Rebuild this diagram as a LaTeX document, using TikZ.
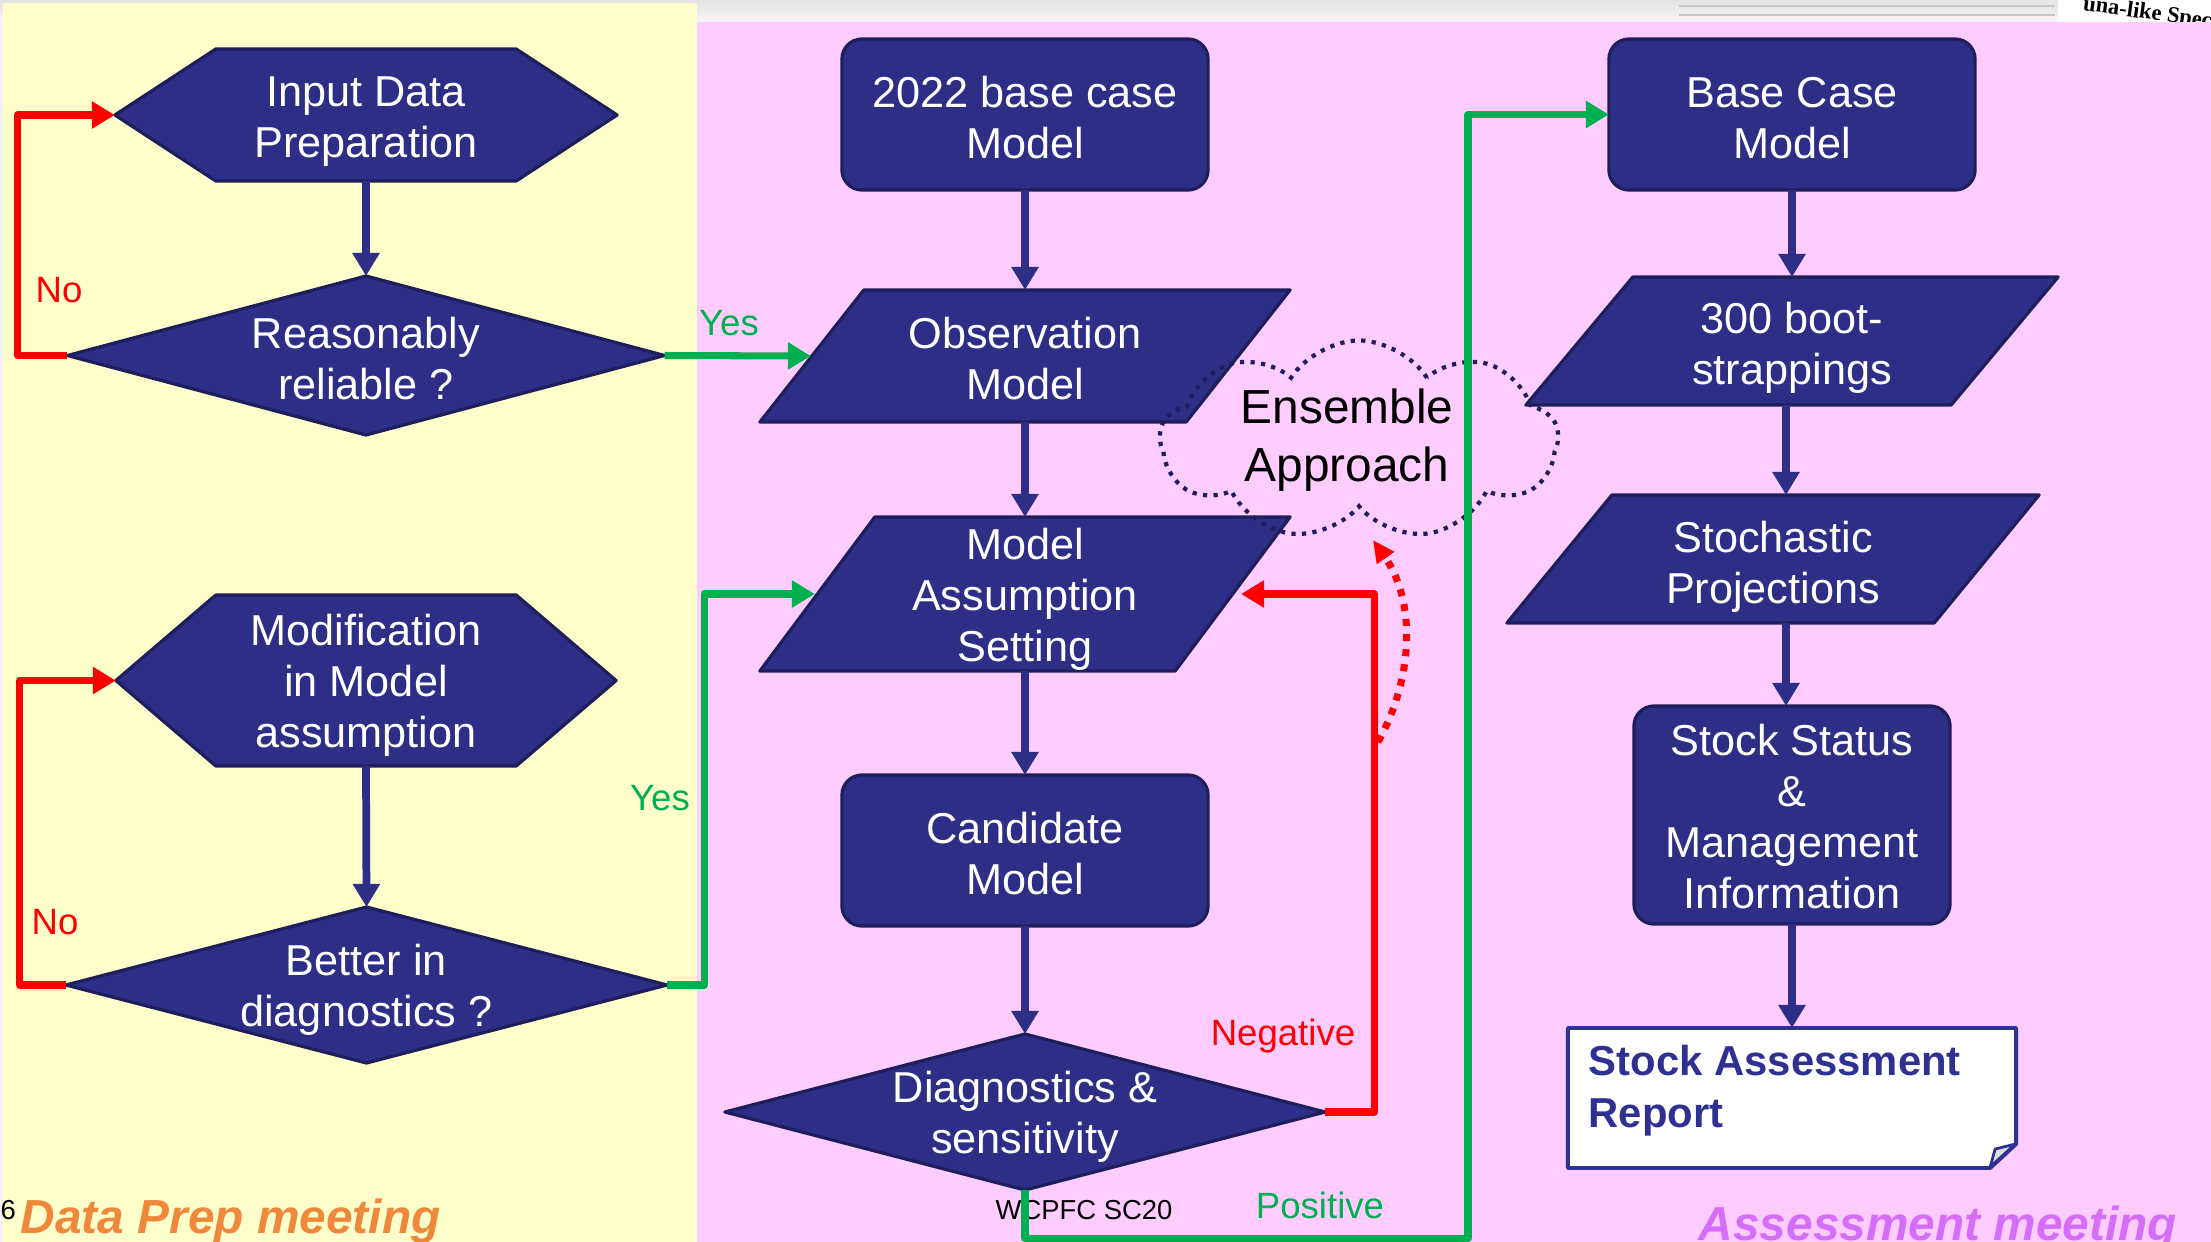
\documentclass[tikz,border=0pt]{standalone}
\usepackage{fontspec}
\setmainfont{Liberation Sans}
\newfontfamily\seriffont{Liberation Serif}
\usetikzlibrary{shapes.symbols,arrows.meta,calc}
\definecolor{navy}{RGB}{45,46,134}
\definecolor{navyD}{RGB}{30,30,92}
\definecolor{navyR}{RGB}{46,49,146}
\definecolor{ylw}{RGB}{255,255,204}
\definecolor{pnk}{RGB}{255,204,255}
\definecolor{grn}{RGB}{0,176,80}
\definecolor{rd}{RGB}{255,0,0}
\definecolor{org}{RGB}{240,136,60}
\definecolor{prp}{RGB}{212,110,250}
\pgfdeclarelayer{bgzero}
\pgfdeclarelayer{bgone}
\pgfsetlayers{bgzero,bgone,main}
\tikzset{
  box/.style={inner sep=0pt, outer sep=0pt},
  txt/.style={inner sep=0pt, align=center, text=white,
    font=\fontsize{12.3}{14.5}\selectfont},
  rbox/.style={box, fill=navy, draw=navyD, line width=0.9pt, rounded corners=0.2cm},
  shp/.style={fill=navy, draw=navyD, line width=0.9pt, line join=round},
  arr/.style={draw=navy, line width=2.2pt, -{Triangle[length=0.23cm,width=0.26cm]}},
  redarr/.style={draw=rd, line width=2pt, line join=round, -{Triangle[length=0.23cm,width=0.26cm]}},
  grnarr/.style={draw=grn, line width=2pt, line join=round, -{Triangle[length=0.23cm,width=0.26cm]}},
  lbl/.style={font=\fontsize{10.4}{12}\selectfont, inner sep=0pt},
  meet/.style={font=\fontsize{13.6}{16}\selectfont\bfseries\itshape, inner sep=0pt, anchor=base west},
}
\begin{document}
\begin{tikzpicture}[x=0.01cm,y=-0.01cm]
\useasboundingbox (0,0) rectangle (2211,1242);

% ---------- nodes ----------
\node[box, minimum width=5.02cm, minimum height=1.32cm,
  label={[txt, yshift=-0.07cm]center:{Input Data\\Preparation}}] (ipd) at (366,115) {};
\node[box, minimum width=5.97cm, minimum height=1.59cm,
  label={[txt, yshift=-0.03cm]center:{Reasonably\\reliable ?}}] (rr) at (366,355.5) {};
\node[box, minimum width=5.00cm, minimum height=1.71cm,
  label={[txt, yshift=-0.05cm]center:{Modification\\in Model\\assumption}}] (mod) at (366,680.5) {};
\node[box, minimum width=6.01cm, minimum height=1.56cm,
  label={[txt, yshift=-0.05cm]center:{Better in\\diagnostics ?}}] (bd) at (366.5,985) {};

\node[rbox, minimum width=3.66cm, minimum height=1.51cm,
  label={[txt, yshift=-0.03cm]center:{2022 base case\\Model}}] (b22) at (1025,114.5) {};
\node[box, minimum width=5.30cm, minimum height=1.32cm,
  label={[txt, yshift=-0.03cm]center:{Observation\\Model}}] (obs) at (1025,356) {};
\node[box, minimum width=5.30cm, minimum height=1.54cm,
  label={[txt, yshift=-0.05cm]center:{Model\\Assumption\\Setting}}] (mas) at (1025,594) {};
\node[rbox, minimum width=3.66cm, minimum height=1.51cm,
  label={[txt, yshift=-0.03cm]center:{Candidate\\Model}}] (cand) at (1025,850.5) {};
\node[box, minimum width=6.00cm, minimum height=1.56cm,
  label={[txt, yshift=-0.05cm]center:{Diagnostics \&\\sensitivity}}] (diag) at (1025,1112) {};

\node[rbox, minimum width=3.66cm, minimum height=1.51cm,
  label={[txt, yshift=-0.04cm]center:{Base Case\\Model}}] (basec) at (1792,114.5) {};
\node[box, minimum width=5.32cm, minimum height=1.28cm,
  label={[txt, yshift=-0.07cm]center:{300 boot-\\strappings}}] (boot) at (1792,341) {};
\node[box, minimum width=5.32cm, minimum height=1.28cm,
  label={[txt, yshift=-0.08cm]center:{Stochastic\\Projections}}] (stoch) at (1773,559) {};
\node[rbox, minimum width=3.16cm, minimum height=2.18cm,
  label={[txt, yshift=-0.02cm]center:{Stock Status\\\&\\Management\\Information}}] (stat) at (1792,815) {};
\node[box, minimum width=4.48cm, minimum height=1.40cm] (rep) at (1792,1098) {};
\node[inner sep=0pt, anchor=north west, align=left, text=navyR,
      font=\fontsize{11.9}{15}\selectfont\bfseries] (reptxt) at (1588,1044) {Stock Assessment\\Report};

% ---------- backgrounds and shapes (layers) ----------
\begin{pgfonlayer}{bgzero}
  \fill[gray!10] (0,0) rectangle (2211,1242);
  \shade[top color=gray!22, bottom color=gray!6] (0,0) rectangle (2211,22);
  \fill[white] (2058,0) rectangle (2211,22);
  \draw[gray!45, line width=0.6pt] (1679,6) -- (2055,6);
  \draw[gray!45, line width=0.6pt] (1679,15) -- (2055,15);
  \begin{scope}
    \clip (2058,0) rectangle (2211,22);
    \node[inner sep=0pt, anchor=base west, rotate=-8,
          font=\seriffont\bfseries\fontsize{6.4}{7}\selectfont] (frag) at (2082,10) {una-like Species in At};
  \end{scope}
  \fill[ylw] (3,3) rectangle (697,1242);
  \fill[pnk] (697,22) rectangle (2211,1242);
\end{pgfonlayer}

\begin{pgfonlayer}{bgone}
  \foreach \n/\s in {ipd/101, mod/100}{
    \draw[shp] (\n.west) -- ($(\n.north west)+(\s,0)$) -- ($(\n.north east)+(-\s,0)$)
      -- (\n.east) -- ($(\n.south east)+(-\s,0)$) -- ($(\n.south west)+(\s,0)$) -- cycle;
  }
  \foreach \n in {rr, bd, diag}{
    \draw[shp] (\n.west) -- (\n.north) -- (\n.east) -- (\n.south) -- cycle;
  }
  \foreach \n/\s in {obs/104, mas/115, boot/107, stoch/105}{
    \draw[shp] ($(\n.north west)+(\s,0)$) -- (\n.north east) -- ($(\n.south east)+(-\s,0)$)
      -- (\n.south west) -- cycle;
  }
  \draw[fill=white, draw=navyR, line width=1.1pt, line join=round]
    (rep.north west) -- (rep.north east) -- ($(rep.south east)+(0,-24)$)
    -- ($(rep.south east)+(-26,0)$) -- (rep.south west) -- cycle;
  \draw[fill=gray!25, draw=navyR, line width=0.8pt, line join=round]
    ($(rep.south east)+(-26,-1)$) -- ($(rep.south east)+(-21,-19)$) -- ($(rep.south east)+(-1,-24)$) -- cycle;
\end{pgfonlayer}

% ---------- cloud ----------
\node[cloud, cloud puffs=9, cloud puff arc=115, aspect=2, inner sep=0pt,
      minimum width=3.98cm, minimum height=1.99cm,
      draw=navyD, line width=1.2pt, dash pattern=on 1.2pt off 1.8pt] (cloud) at (1359,440) {};
\node[inner sep=0pt, align=center, font=\fontsize{13.6}{16.5}\selectfont] (ens) at (1347,440) {Ensemble\\Approach};
\coordinate (dstart) at (1378,742);
\coordinate (dend) at (1373,540);

% ---------- labels ----------
\node[lbl, text=rd] (no1) at (59,290) {No};
\node[lbl, text=rd] (no2) at (55,922) {No};
\node[lbl, text=grn] (yes1) at (729,323) {Yes};
\node[lbl, text=grn] (yes2) at (660,798) {Yes};
\node[lbl, text=rd] (neg) at (1283,1036) {Negative};
\node[lbl, text=grn] (pos) at (1320,1205) {Positive};
\node[inner sep=0pt, font=\fontsize{7.8}{9}\selectfont] (wc) at (1084,1210) {WCPFC SC20};
\node[inner sep=0pt, font=\fontsize{7.8}{9}\selectfont, anchor=base west] (pg) at (0,1219) {6};
\node[meet, text=org] (dpm) at (20,1233) {Data Prep meeting};
\node[meet, text=prp] (asm) at (1698,1240) {Assessment meeting};

% ---------- connectors ----------
\draw[arr] (ipd.south) -- (rr.north);
\draw[arr] (mod.south) -- (bd.north);
\draw[arr] (b22.south) -- (obs.north);
\draw[arr] (obs.south) -- (mas.north);
\draw[arr] (mas.south) -- (cand.north);
\draw[arr] (cand.south) -- (diag.north);
\draw[arr] (basec.south) -- (boot.north);
\draw[arr] ([xshift=-0.06cm]boot.south) -- ([xshift=-0.06cm]boot.south |- stoch.north);
\draw[arr] ([xshift=0.13cm]stoch.south) -- ([xshift=0.13cm]stoch.south |- stat.north);
\draw[arr] (stat.south) -- (rep.north);

\draw[redarr] (rr.west) -- ++(-50,0) |- (ipd.west);
\draw[redarr] (bd.west) -- ++(-46,0) |- (mod.west);
\draw[grnarr] (rr.east) -- ([xshift=0.51cm]obs.west);
\draw[grnarr] (bd.east) -- ++(37,0) |- ([xshift=0.55cm]mas.west);
\draw[redarr] (diag.east) -- ++(49,0) |- ([xshift=-0.49cm]mas.east);
\draw[grnarr] (diag.south) -- ++(0,48) -- ++(443,0) |- (basec.west);
\draw[draw=rd, line width=2pt, dash pattern=on 2pt off 2.3pt,
      -{Triangle[length=0.22cm,width=0.2cm]}]
  (dstart) .. controls (1415,675) and (1415,600) .. (dend);
\end{tikzpicture}
\end{document}
